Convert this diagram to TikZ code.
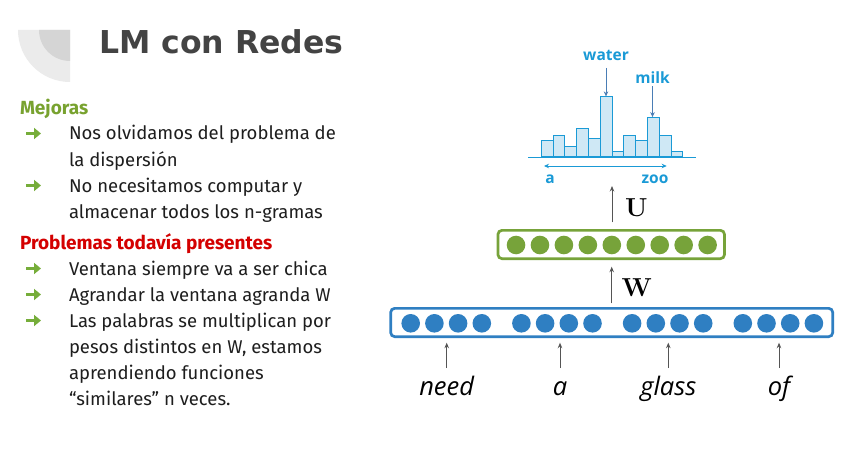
\documentclass[tikz,border=0pt]{standalone}
\usepackage{fontspec}
\setmainfont{Fira Sans}
\newfontfamily\wordfont{Open Sans}
\newfontfamily\titlefont{DejaVu Sans}
\newfontfamily\matfont{Latin Modern Roman}
\usetikzlibrary{arrows.meta}

\definecolor{titlegray}{HTML}{434343}
\definecolor{decolight}{HTML}{EBEBEB}
\definecolor{decodark}{HTML}{D5D5D5}
\definecolor{goodgreen}{HTML}{78A22F}
\definecolor{bulletgreen}{HTML}{76AD3A}
\definecolor{badred}{HTML}{D40000}
\definecolor{bodytext}{HTML}{1E1E1E}
\definecolor{layerblue}{HTML}{2F7FC2}
\definecolor{layergreen}{HTML}{77A33A}
\definecolor{histblue}{HTML}{1A9AD6}
\definecolor{histfill}{HTML}{CFE8F5}
\definecolor{pointer}{HTML}{4A7DB5}
\definecolor{flowgray}{HTML}{555555}

\tikzset{
  txt/.style={inner sep=0pt, outer sep=0pt},
  titletext/.style={txt, anchor=base west, text=titlegray,
    font=\titlefont\fontsize{31.5}{36}\selectfont\bfseries},
  heading/.style={txt, anchor=base west,
    font=\fontsize{19}{24}\selectfont\bfseries},
  bodyline/.style={txt, anchor=base west, text=bodytext,
    font=\fontsize{18.5}{24}\selectfont},
  bulletmark/.style={draw=bulletgreen, line width=3.8pt,
    -{Triangle[length=7pt,width=11pt]}},
  layerbox/.style={draw, line width=2.7pt, rounded corners=4pt,
    inner sep=0pt, minimum height=28.3pt},
  unit/.style={circle, inner sep=0pt, minimum size=18.6pt},
  bar/.style={draw=histblue, fill=histfill, line width=0.9pt,
    inner sep=0pt, minimum width=11.8pt, anchor=south west},
  histlabel/.style={txt, anchor=base, text=histblue,
    font=\wordfont\fontsize{15.5}{17}\selectfont\bfseries},
  wordlabel/.style={txt, anchor=base,
    font=\wordfont\fontsize{25.5}{28}\selectfont\itshape},
  matlabel/.style={txt, anchor=base west,
    font=\matfont\fontsize{26}{28}\selectfont\bfseries},
  flow/.style={draw=flowgray, line width=1pt,
    -{Stealth[length=5.5pt,width=4.5pt]}},
  pointarrow/.style={draw=pointer, line width=1pt,
    -{Stealth[length=5pt,width=4.5pt]}},
}

\begin{document}
\begin{tikzpicture}[x=1pt,y=-1pt]
\useasboundingbox (0,0) rectangle (866,449);
\fill[white] (0,0) rectangle (866,449);

% corner ornament beside the title
\fill[decolight] (70,30) -- (18,30) arc[start angle=180,end angle=90,radius=52] -- cycle;
\fill[decodark] (70,30) -- (39,30) arc[start angle=180,end angle=90,radius=31] -- cycle;

\node[titletext] (title) at (99,53.3) {LM con Redes};

% ---- left column ----
\node[heading, text=goodgreen] (hgood) at (20,114.3) {Mejoras};
\node[bodyline] (g1a) at (69,140) {Nos olvidamos del problema de};
\node[bodyline] (g1b) at (69,166) {la dispersión};
\node[bodyline] (g2a) at (69,192) {No necesitamos computar y};
\node[bodyline] (g2b) at (69,218) {almacenar todos los n-gramas};

\node[heading, text=badred] (hbad) at (20,249) {Problemas todavía presentes};
\node[bodyline] (p1) at (69,275) {Ventana siempre va a ser chica};
\node[bodyline] (p2) at (69,301) {Agrandar la ventana agranda W};
\node[bodyline] (p3a) at (69,327) {Las palabras se multiplican por};
\node[bodyline] (p3b) at (69,353) {pesos distintos en W, estamos};
\node[bodyline] (p3c) at (69,379) {aprendiendo funciones};
\node[bodyline] (p3d) at (69,405) {“similares” n veces.};

% green arrow bullets, one per item
\foreach \item in {g1a,g2a,p1,p2,p3a}{
  \draw[bulletmark] ([xshift=-43pt,yshift=6.5pt]\item.base west) -- ++(15,0);
}

% ---- output distribution ----
\foreach \i/\top in {1/141.3,2/136.3,3/147.3,4/129.3,5/139,6/97.3,
                     7/152.3,8/136.3,9/141.3,10/118,11/136.3,12/152.3}{
  \pgfmathsetmacro\bx{540.7+(\i-1)*11.8}
  \pgfmathsetmacro\bh{157.3-\top}
  \node[bar, minimum height=\bh pt] (bar\i) at (\bx,157.3) {};
}
\draw[histblue, line width=1pt] (528,157.3) -- (695.7,157.3);
\draw[histblue, line width=1pt, {Stealth[length=5pt,width=4.5pt]}-{Stealth[length=5pt,width=4.5pt]}]
  (544,166) -- (666.7,166);
\node[histlabel] (vfirst) at (550,183.3) {a};
\node[histlabel] (vlast) at (655,183.3) {zoo};

\node[histlabel] (water) at (606,60.7) {water};
\node[histlabel] (milk) at (652.5,83.3) {milk};
\draw[pointarrow, shorten <=7pt] (water.south) -- (water.south |- bar6.north);
\draw[pointarrow, shorten <=3pt] (milk.south) -- (milk.south |- bar10.north);

% ---- hidden layer ----
\node[layerbox, draw=layergreen, minimum width=226.5pt] (hid) at (611.2,244.5) {};
\foreach \k in {0,...,8}{
  \node[unit, fill=layergreen] (h\k) at (516+\k*23.95,245) {};
}

% ---- input layer ----
\node[layerbox, draw=layerblue, minimum width=442pt] (inp) at (611.7,322.5) {};
\foreach \g in {0,...,3}{
  \foreach \k in {0,...,3}{
    \node[unit, fill=layerblue] (x\g\k) at (410.7+\g*110.7+\k*23.7,323.3) {};
  }
}

% ---- input words ----
\node[wordlabel] (w1) at (446.7,395) {need};
\node[wordlabel] (w2) at (560,395) {a};
\node[wordlabel] (w3) at (668.3,395) {glass};
\node[wordlabel] (w4) at (779,395) {of};
\foreach \w in {w1,w2,w3,w4}{
  \draw[flow, shorten >=4.7pt] ([yshift=27pt]\w.base) -- (\w.base |- inp.south);
}

% ---- weight matrices ----
\draw[flow, shorten <=3.7pt, shorten >=6.7pt] (inp.north) -- (inp.north |- hid.south);
\node[matlabel] (matW) at (621.7,296) {W};

\coordinate (outtip) at (612,186);
\draw[flow, shorten <=6.6pt] (outtip |- hid.north) -- (outtip);
\node[matlabel] (matU) at (625,216.7) {U};

\end{tikzpicture}
\end{document}
